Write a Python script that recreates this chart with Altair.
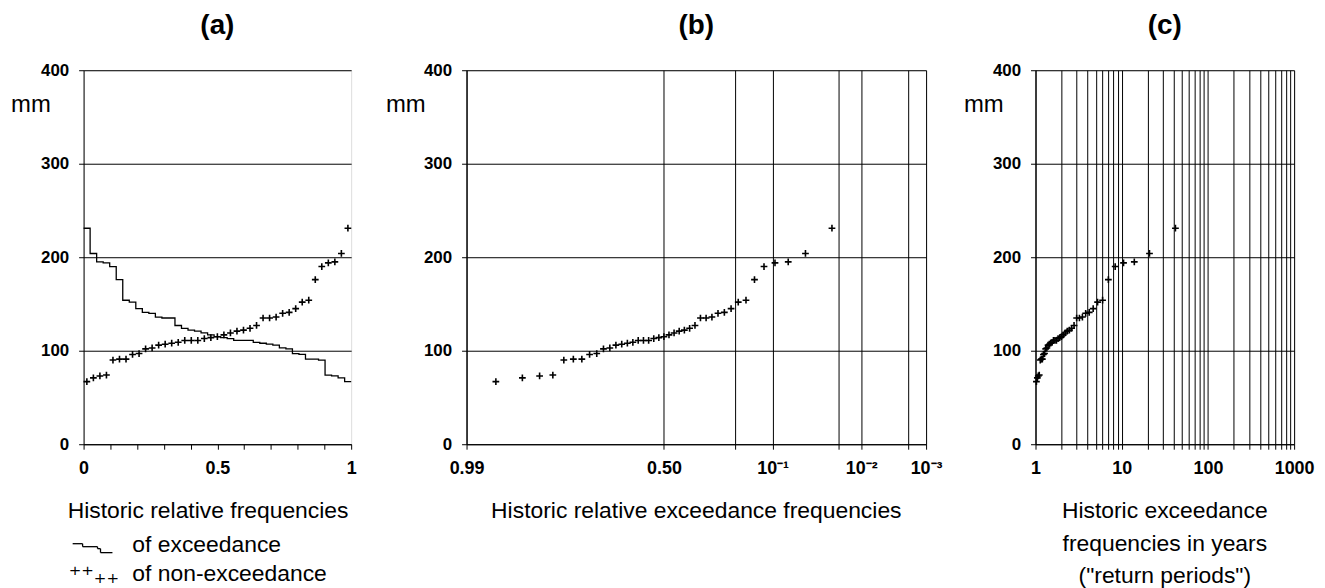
import altair as alt
import pandas as pd
from statistics import NormalDist

# ---- data (annual values, mm), sorted ascending, n = 41
values_mm = [67, 71, 73, 74, 90, 91, 91, 96, 97, 102,
             103, 106, 107, 108, 109, 111, 111, 111, 113, 114,
             115, 117, 119, 121, 122, 124, 127, 135, 135, 136,
             140, 141, 145, 152, 154, 176, 190, 194, 195, 204, 231]

panel_titles = ["(a)", "(b)", "(c)"]
y_ticks = [0, 100, 200, 300, 400]
a_x_ticks = [0, 0.1, 0.2, 0.3, 0.4, 0.5, 0.6, 0.7, 0.8, 0.9, 1.0]
a_x_labels = {0: "0", 0.5: "0.5", 1.0: "1"}
b_tick_probs = [0.99, 0.5, 0.2, 0.1, 0.02, 0.01, 0.002, 0.001]
b_tick_labels = ["0.99", "0.50", "", "10⁻¹", "", "10⁻²", "", "10⁻³"]
c_ticks = [1, 2, 3, 4, 5, 6, 7, 8, 9, 10, 20, 30, 40, 50, 60, 70, 80, 90,
           100, 200, 300, 400, 500, 600, 700, 800, 900, 1000]
c_labels = [1, 10, 100, 1000]

n = len(values_mm)
desc = sorted(values_mm, reverse=True)
nd = NormalDist()

df_a_pts = pd.DataFrame({"f": [(j - 0.5) / n for j in range(1, n + 1)], "mm": values_mm})
df_a_step = pd.DataFrame({"f": [(k - 1) / n for k in range(1, n + 1)] + [1.0],
                          "mm": desc + [desc[-1]]})
df_b = pd.DataFrame({"z": [nd.inv_cdf(1 - k / (n + 1)) for k in range(1, n + 1)], "mm": desc})
df_c = pd.DataFrame({"T": [(n + 1) / k for k in range(1, n + 1)], "mm": desc})
one = pd.DataFrame({"d": [0]})

FONT = "Liberation Sans"
BLACK = "#000000"
H = 376
WA, WB, WC = 269, 462, 260
PLUS = "M-1,0L1,0M0,-1L0,1"


def y_enc():
    return alt.Y("mm:Q", scale=alt.Scale(domain=[0, 400], nice=False, zero=True),
                 axis=alt.Axis(values=y_ticks, title=None, grid=True, gridColor=BLACK,
                               gridOpacity=1, gridWidth=1, domainColor=BLACK, tickColor=BLACK,
                               tickSize=5, labelFont=FONT, labelFontWeight="bold",
                               labelFontSize=17, labelColor=BLACK, labelPadding=10))


def pts(df, xenc):
    return alt.Chart(df).mark_point(shape=PLUS, filled=False, size=46, stroke=BLACK,
                                    strokeWidth=1.6, opacity=1).encode(x=xenc, y=y_enc())


def txt(s, x, y, size=23, align="left", font=FONT, weight="normal"):
    return alt.Chart(one).mark_text(text=s, align=align, baseline="alphabetic", font=font,
                                    fontSize=size, fontWeight=weight, color=BLACK,
                                    lineBreak="\n", lineHeight=33).encode(
        x=alt.value(x), y=alt.value(y))


def hrule(x1, x2, y):
    return alt.Chart(one).mark_rule(color=BLACK, strokeWidth=1.3).encode(
        x=alt.value(x1), x2=alt.value(x2), y=alt.value(y))


def vrule(x, y1, y2):
    return alt.Chart(one).mark_rule(color=BLACK, strokeWidth=1.3).encode(
        x=alt.value(x), y=alt.value(y1), y2=alt.value(y2))


def title(t):
    return alt.TitleParams(t, fontSize=28, fontWeight="bold", font=FONT, color=BLACK,
                           anchor="middle", frame="group", offset=21)


# ---- panel (a)
a_expr = " : ".join(f"datum.value == {k} ? '{v}'" for k, v in a_x_labels.items()) + " : ''"
xa = alt.X("f:Q", scale=alt.Scale(domain=[0, 1], nice=False),
           axis=alt.Axis(values=a_x_ticks, labelExpr=a_expr, title=None, grid=False,
                         domainColor=BLACK, tickColor=BLACK, tickSize=5, labelFont=FONT,
                         labelFontWeight="bold", labelFontSize=18, labelColor=BLACK,
                         labelPadding=10, labelFlush=False))
step = alt.Chart(df_a_step).mark_line(interpolate="step-after", color=BLACK,
                                      strokeWidth=1.3).encode(x=xa, y=y_enc())
panel_a = alt.layer(
    step, pts(df_a_pts, xa),
    txt("mm", -53, 42, size=24, align="center"),
    txt("Historic relative frequencies", -16, 450),
    txt("of exceedance", 49, 484),
    txt("of non-exceedance", 49, 514),
    hrule(-11, -1, 476), vrule(-1, 476, 479), hrule(-1, 14, 479), vrule(14, 479, 481),
    hrule(14, 17, 481), vrule(17, 481, 485), hrule(17, 29, 485),
    txt("⁺⁺₊₊", -15, 516, size=24, font="DejaVu Sans"),
).properties(width=WA, height=H, title=title(panel_titles[0]))

# ---- panel (b)
zt = [nd.inv_cdf(1 - p) for p in b_tick_probs]
b_expr = " : ".join(f"abs(datum.value - ({z:.6f})) < 0.001 ? '{l}'"
                    for z, l in zip(zt, b_tick_labels)) + " : ''"
xb = alt.X("z:Q", scale=alt.Scale(domain=[zt[0], zt[-1]], nice=False, zero=False),
           axis=alt.Axis(values=zt, labelExpr=b_expr, title=None, grid=True, gridColor=BLACK,
                         gridOpacity=1, gridWidth=1, domainColor=BLACK, tickColor=BLACK,
                         tickSize=5, labelFont=FONT, labelFontWeight="bold", labelFontSize=18,
                         labelColor=BLACK, labelPadding=10, labelFlush=False))
panel_b = alt.layer(
    pts(df_b, xb),
    txt("mm", -61, 42, size=24, align="center"),
    txt("Historic relative exceedance frequencies", WB / 2, 450, align="center"),
).properties(width=WB, height=H, title=title(panel_titles[1]))

# ---- panel (c)
c_expr = " || ".join(f"datum.value == {v}" for v in c_labels) + " ? datum.label : ''"
xc = alt.X("T:Q", scale=alt.Scale(type="log", domain=[1, 1000], nice=False),
           axis=alt.Axis(values=c_ticks, labelExpr=c_expr, format="d", title=None, grid=True,
                         gridColor=BLACK, gridOpacity=1, gridWidth=1, domainColor=BLACK,
                         tickColor=BLACK, tickSize=5, labelFont=FONT, labelFontWeight="bold",
                         labelFontSize=18, labelColor=BLACK, labelPadding=10,
                         labelFlush=False))
panel_c = alt.layer(
    pts(df_c, xc),
    txt("mm", -52, 42, size=24, align="center"),
    txt("Historic exceedance\nfrequencies in years\n(\"return  periods\")", WC / 2, 450,
        align="center"),
).properties(width=WC, height=H, title=title(panel_titles[2]))

right = alt.hconcat(panel_b, panel_c, spacing=110, bounds="flush")
chart = alt.hconcat(panel_a, right, spacing=116, bounds="flush").resolve_scale(
    x="independent", y="independent"
).configure_view(stroke=BLACK, strokeWidth=1.2).configure(
    background="white", padding={"left": 2, "top": 2, "right": 2, "bottom": 0})

chart.save("out.html", embed_options={"renderer": "svg", "actions": False})
